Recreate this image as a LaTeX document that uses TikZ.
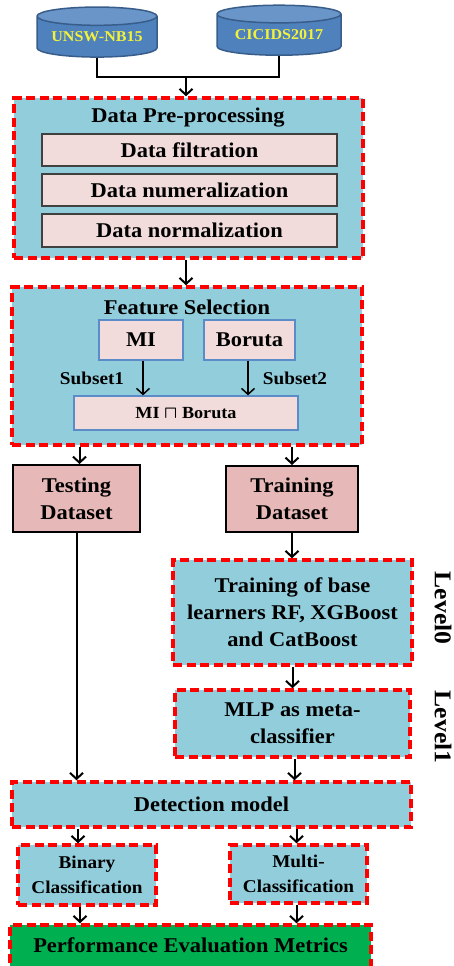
\documentclass[tikz,border=0pt]{standalone}
\usepackage{amsmath}
\usepackage{fontspec}
\setmainfont[FakeStretch=1.07]{Liberation Serif}
\usetikzlibrary{arrows.meta,shapes.geometric,calc}
\definecolor{lblue}{HTML}{92CDDC}
\definecolor{pinkf}{HTML}{F2DCDB}
\definecolor{dsf}{HTML}{E6B8B7}
\definecolor{edgeblue}{HTML}{5B8CC8}
\definecolor{cylf}{HTML}{4F81BD}
\definecolor{cylt}{HTML}{6A95C8}
\definecolor{cylb}{HTML}{385D8A}
\definecolor{yellowt}{HTML}{F2F23A}
\definecolor{greenf}{HTML}{00B050}
\tikzset{
 redbox/.style={draw=red, line width=3.5pt, dash pattern=on 9pt off 4.5pt, fill=lblue, inner sep=0pt},
 pinkbox/.style={draw=black!75, line width=1.2pt, fill=pinkf, inner sep=0pt},
 bluebox/.style={draw=edgeblue, line width=1.2pt, fill=pinkf, inner sep=0pt},
 dsbox/.style={draw=black, line width=2pt, fill=dsf, inner sep=0pt},
 arr/.style={draw=black, line width=2pt, -{Straight Barb[length=6pt,width=13pt]}},
 plain/.style={draw=black, line width=2.5pt},
 txt/.style={font=\fontsize{21}{27}\selectfont\bfseries, align=center},
 smalltxt/.style={font=\fontsize{17}{20}\selectfont\bfseries, align=center},
 midtxt/.style={font=\fontsize{18}{25}\selectfont\bfseries, align=center},
 cyl/.style={cylinder, shape border rotate=90, aspect=0.2, draw=cylb, line width=1.5pt,
   cylinder uses custom fill, cylinder body fill=cylf, cylinder end fill=cylt,
   inner sep=0pt, font=\fontsize{15}{18}\selectfont\bfseries, text=yellowt}
}
\begin{document}
\begin{tikzpicture}[x=1pt,y=-1pt]
\useasboundingbox (0,0) rectangle (454,966);
% datasets
\node[cyl, minimum width=120pt, minimum height=50pt] (u) at (97,37) {UNSW-NB15};
\node[cyl, minimum width=124pt, minimum height=50pt] (c) at (279,35) {CICIDS2017};
\coordinate (j) at (186,77);
\draw[plain] (u.south) |- (j) -| (c.south);
% preprocessing
\node[redbox, minimum width=349pt, minimum height=160pt] (dp) at (188.5,178) {};
\draw[arr] (j) -- (j |- dp.north);
\node[txt] (dpt) at (188,118) {Data Pre-processing};
\node[pinkbox, txt, minimum width=295pt, minimum height=32pt] (f1) at (189.5,150) {Data filtration};
\node[pinkbox, txt, minimum width=295pt, minimum height=32pt] (f2) at (189.5,190) {Data numeralization};
\node[pinkbox, txt, minimum width=295pt, minimum height=33pt] (f3) at (189.5,230.5) {Data normalization};
% feature selection
\node[redbox, minimum width=350pt, minimum height=158pt] (fs) at (187,366) {};
\draw[arr] (dp.south -| j) -- (fs.north -| j);
\node[txt] (fst) at (187,307) {Feature Selection};
\node[bluebox, txt, minimum width=84pt, minimum height=40pt] (mi) at (141,340) {MI};
\node[bluebox, txt, minimum width=91pt, minimum height=40pt] (bo) at (249.5,340) {Boruta};
\node[bluebox, smalltxt, minimum width=224pt, minimum height=34pt] (mb) at (186,413) {MI \(\boldsymbol{\sqcap}\) Boruta};
\draw[arr, line width=1.5pt] ([xshift=2pt]mi.south) -- ([xshift=2pt]mi.south |- mb.north);
\draw[arr, line width=1.5pt] ([xshift=-1.5pt]bo.south) -- ([xshift=-1.5pt]bo.south |- mb.north);
\node[smalltxt, font=\fontsize{18}{20}\selectfont\bfseries] (s1) at (92,378) {Subset1};
\node[smalltxt, font=\fontsize{18}{20}\selectfont\bfseries] (s2) at (295,378) {Subset2};
% datasets split
\node[dsbox, txt, minimum width=127pt, minimum height=67pt] (test) at (76.5,498.5) {Testing\\Dataset};
\node[dsbox, txt, minimum width=132pt, minimum height=66pt] (train) at (292,499) {Training\\Dataset};
\draw[arr] ([xshift=3pt]test.north |- fs.south) -- ([xshift=3pt]test.north);
\draw[arr] (train.north |- fs.south) -- (train.north);
% stacking
\node[redbox, txt, minimum width=239pt, minimum height=105pt] (base) at (292.5,612.5) {Training of base\\learners RF, XGBoost\\and CatBoost};
\node[redbox, txt, minimum width=235pt, minimum height=67pt] (mlp) at (292.5,723.5) {MLP as meta-\\classifier};
\draw[arr] (train.south) -- (train.south |- base.north);
\draw[arr] (base.south) -- (base.south |- mlp.north);
\node[txt, font=\fontsize{24}{27}\selectfont\bfseries, rotate=-90] (l0) at (443,608) {Level0};
\node[txt, font=\fontsize{24}{27}\selectfont\bfseries, rotate=-90] (l1) at (443,727) {Level1};
% detection
\node[redbox, txt, minimum width=399pt, minimum height=45pt] (det) at (211.5,804.5) {Detection model};
\draw[arr] (test.south) -- (test.south |- det.north);
\draw[arr] ([xshift=2pt]mlp.south) -- ([xshift=2pt]mlp.south |- det.north);
\node[redbox, midtxt, minimum width=138pt, minimum height=60pt] (bin) at (87,875) {Binary\\Classification};
\node[redbox, midtxt, minimum width=137pt, minimum height=58pt] (mul) at (298.5,874) {Multi-\\Classification};
\draw[arr] ([xshift=-9pt]bin.north |- det.south) -- ([xshift=-9pt]bin.north);
\draw[arr] ([xshift=-2pt]mul.north |- det.south) -- ([xshift=-2pt]mul.north);
% evaluation
\node[redbox, fill=greenf, minimum width=361pt, minimum height=46pt] (perf) at (190.5,948) {};
\node[txt] (perft) at (190.5,945) {Performance Evaluation Metrics};
\draw[arr] ([xshift=-7pt]bin.south) -- ([xshift=-7pt]bin.south |- perf.north);
\draw[arr] ([xshift=-2pt]mul.south) -- ([xshift=-2pt]mul.south |- perf.north);
\end{tikzpicture}
\end{document}
